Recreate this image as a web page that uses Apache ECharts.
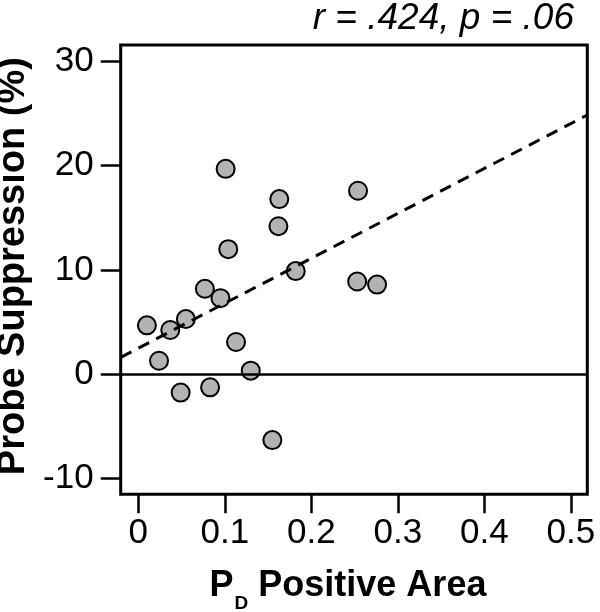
<!DOCTYPE html>
<html>
<head>
<meta charset="utf-8">
<script src="https://cdn.jsdelivr.net/npm/echarts@6/dist/echarts.min.js"></script>
<style>
html,body{margin:0;padding:0;background:#fff;}
#chart{width:600px;height:612px;}
</style>
</head>
<body>
<div id="chart"></div>
<script>
// Data
var pdArea = [0.101, 0.163, 0.162, 0.104, 0.254, 0.182, 0.253, 0.276, 0.077, 0.095, 0.010, 0.055, 0.037, 0.113, 0.024, 0.130, 0.049, 0.083, 0.155];
var probeSuppression = [19.7, 16.8, 14.2, 12.0, 17.6, 9.9, 8.9, 8.6, 8.2, 7.3, 4.7, 5.3, 4.25, 3.1, 1.3, 0.35, -1.75, -1.25, -6.3];
var fitX = [-0.0203, 0.519];
var fitY = [1.63, 24.86];
var xTicks = [0, 0.1, 0.2, 0.3, 0.4, 0.5];
var xTickLabels = ['0', '0.1', '0.2', '0.3', '0.4', '0.5'];
var yTicks = [-10, 0, 10, 20, 30];
var yTickLabels = ['-10', '0', '10', '20', '30'];
var statText = 'r = .424, p = .06';

var FONT = 'Liberation Sans';
var points = pdArea.map(function (x, i) { return [x, probeSuppression[i]]; });
var fitLine = fitX.map(function (x, i) { return [x, fitY[i]]; });

var chart = echarts.init(document.getElementById('chart'), null, {renderer: 'canvas'});
chart.setOption({
  animation: false,
  backgroundColor: '#fff',
  title: {
    text: statText,
    right: 26, top: 0, padding: 0,
    textStyle: {fontFamily: FONT, fontStyle: 'italic', fontWeight: 'normal', fontSize: 37, color: '#000'}
  },
  grid: {
    left: 120.7, right: 12.7, top: 45, bottom: 117.7,
    containLabel: false, outerBoundsMode: 'none',
    show: true, borderColor: '#000', borderWidth: 3, backgroundColor: 'transparent'
  },
  xAxis: {
    type: 'value', min: -0.0203, max: 0.519,
    axisLine: {show: false, onZero: false},
    splitLine: {show: false},
    axisTick: {show: true, customValues: xTicks, length: 19, lineStyle: {color: '#000', width: 2.5}},
    axisLabel: {
      customValues: xTicks, margin: 22, fontSize: 35, fontFamily: FONT, color: '#000',
      formatter: function (v) { var i = xTicks.indexOf(v); return i >= 0 ? xTickLabels[i] : ''; }
    },
    name: '{a|P}{d|D}{a| Positive Area}',
    nameLocation: 'middle', nameGap: 74,
    nameTextStyle: {
      padding: [0, 12, 0, 0],
      rich: {
        a: {fontFamily: FONT, fontWeight: 'bold', fontSize: 36, color: '#000', lineHeight: 40, verticalAlign: 'top'},
        d: {fontFamily: FONT, fontWeight: 'bold', fontSize: 19, color: '#000', lineHeight: 20, padding: [26, 0, 0, 1], verticalAlign: 'top'}
      }
    }
  },
  yAxis: {
    type: 'value', min: -11.5, max: 31.57,
    axisLine: {show: false, onZero: false},
    splitLine: {show: false},
    axisTick: {show: true, customValues: yTicks, length: 20, lineStyle: {color: '#000', width: 2.5}},
    axisLabel: {
      customValues: yTicks, margin: 27, fontSize: 35, fontFamily: FONT, color: '#000',
      formatter: function (v) { var i = yTicks.indexOf(v); return i >= 0 ? yTickLabels[i] : ''; }
    },
    name: 'Probe Suppression (%)',
    nameLocation: 'middle', nameGap: 63, nameRotate: 90,
    nameTextStyle: {fontFamily: FONT, fontWeight: 'bold', fontSize: 38, color: '#000', padding: [0, 0, 0, 7]}
  },
  series: [
    {
      type: 'scatter', data: points, symbol: 'circle', symbolSize: 18, z: 2,
      itemStyle: {color: '#b3b3b3', borderColor: '#000', borderWidth: 2, opacity: 1},
      markLine: {
        silent: true, symbol: ['none', 'none'], label: {show: false},
        lineStyle: {color: '#000', width: 2.5, type: 'solid'},
        data: [{yAxis: 0}], z: 4
      }
    },
    {
      type: 'line', data: fitLine, showSymbol: false, symbol: 'none', z: 5, clip: true,
      lineStyle: {color: '#000', width: 3, type: [12, 8]}
    }
  ]
});
</script>
</body>
</html>
